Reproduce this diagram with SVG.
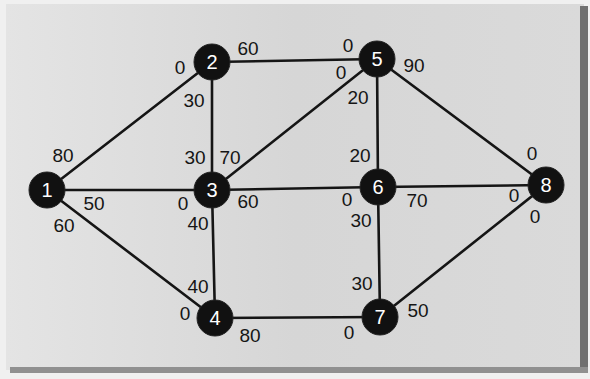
<svg xmlns="http://www.w3.org/2000/svg" width="590" height="379" viewBox="0 0 590 379">
<defs>
<linearGradient id="bg" x1="0" y1="0" x2="1" y2="0">
<stop offset="0" stop-color="#e4e4e4"/>
<stop offset="0.5" stop-color="#d6d6d6"/>
<stop offset="1" stop-color="#dadada"/>
</linearGradient>
</defs>
<style>
.edge{stroke:#151515;stroke-width:2.6;fill:none;stroke-linecap:round}
.node circle{fill:#111;stroke:#222;stroke-width:1}
.node text{fill:#fff;font-family:"Liberation Sans",Arial,sans-serif;font-size:20px;text-anchor:middle;dominant-baseline:central}
.lbl{fill:#151515;font-family:"Liberation Sans",Arial,sans-serif;font-size:19px;text-anchor:middle;dominant-baseline:central}
</style>
<rect x="0" y="0" width="590" height="379" fill="#f0f0f0"/>
<rect x="6" y="4" width="578" height="366" fill="url(#bg)"/>
<rect x="580" y="6" width="8" height="366" fill="#707070"/>
<rect x="10" y="367" width="578" height="6" fill="#909090"/>
<g id="connectors">
<line class="edge" x1="47" y1="190" x2="212" y2="62"/>
<line class="edge" x1="47" y1="190" x2="212" y2="190"/>
<line class="edge" x1="47" y1="190" x2="215" y2="318"/>
<line class="edge" x1="212" y1="62" x2="212" y2="190"/>
<line class="edge" x1="212" y1="62" x2="377" y2="59"/>
<line class="edge" x1="212" y1="190" x2="377" y2="59"/>
<line class="edge" x1="212" y1="190" x2="378" y2="187"/>
<line class="edge" x1="212" y1="190" x2="215" y2="318"/>
<line class="edge" x1="215" y1="318" x2="380" y2="317"/>
<line class="edge" x1="377" y1="59" x2="378" y2="187"/>
<line class="edge" x1="377" y1="59" x2="546" y2="185"/>
<line class="edge" x1="378" y1="187" x2="546" y2="185"/>
<line class="edge" x1="378" y1="187" x2="380" y2="317"/>
<line class="edge" x1="380" y1="317" x2="546" y2="185"/>
</g>
<g id="node1" class="node"><circle cx="47" cy="190" r="18"/><text x="47" y="190">1</text></g>
<g id="node2" class="node"><circle cx="212" cy="62" r="18"/><text x="212" y="62">2</text></g>
<g id="node3" class="node"><circle cx="212" cy="190" r="18"/><text x="212" y="190">3</text></g>
<g id="node4" class="node"><circle cx="215" cy="318" r="18"/><text x="215" y="318">4</text></g>
<g id="node5" class="node"><circle cx="377" cy="59" r="18"/><text x="377" y="59">5</text></g>
<g id="node6" class="node"><circle cx="378" cy="187" r="18"/><text x="378" y="187">6</text></g>
<g id="node7" class="node"><circle cx="380" cy="317" r="18"/><text x="380" y="317">7</text></g>
<g id="node8" class="node"><circle cx="546" cy="185" r="18"/><text x="546" y="185">8</text></g>
<g id="labels">
<text class="lbl" x="180" y="67">0</text>
<text class="lbl" x="248" y="48">60</text>
<text class="lbl" x="194" y="100">30</text>
<text class="lbl" x="63" y="155">80</text>
<text class="lbl" x="195" y="157">30</text>
<text class="lbl" x="230" y="157">70</text>
<text class="lbl" x="348" y="45">0</text>
<text class="lbl" x="341" y="72">0</text>
<text class="lbl" x="414" y="65">90</text>
<text class="lbl" x="358" y="97">20</text>
<text class="lbl" x="360" y="155">20</text>
<text class="lbl" x="532" y="153">0</text>
<text class="lbl" x="94" y="203">50</text>
<text class="lbl" x="64" y="225">60</text>
<text class="lbl" x="183" y="203">0</text>
<text class="lbl" x="248" y="201">60</text>
<text class="lbl" x="198" y="223">40</text>
<text class="lbl" x="347" y="199">0</text>
<text class="lbl" x="417" y="200">70</text>
<text class="lbl" x="514" y="195">0</text>
<text class="lbl" x="535" y="216">0</text>
<text class="lbl" x="361" y="220">30</text>
<text class="lbl" x="198" y="286">40</text>
<text class="lbl" x="185" y="313">0</text>
<text class="lbl" x="250" y="335">80</text>
<text class="lbl" x="362" y="283">30</text>
<text class="lbl" x="418" y="310">50</text>
<text class="lbl" x="349" y="332">0</text>
</g>
</svg>
